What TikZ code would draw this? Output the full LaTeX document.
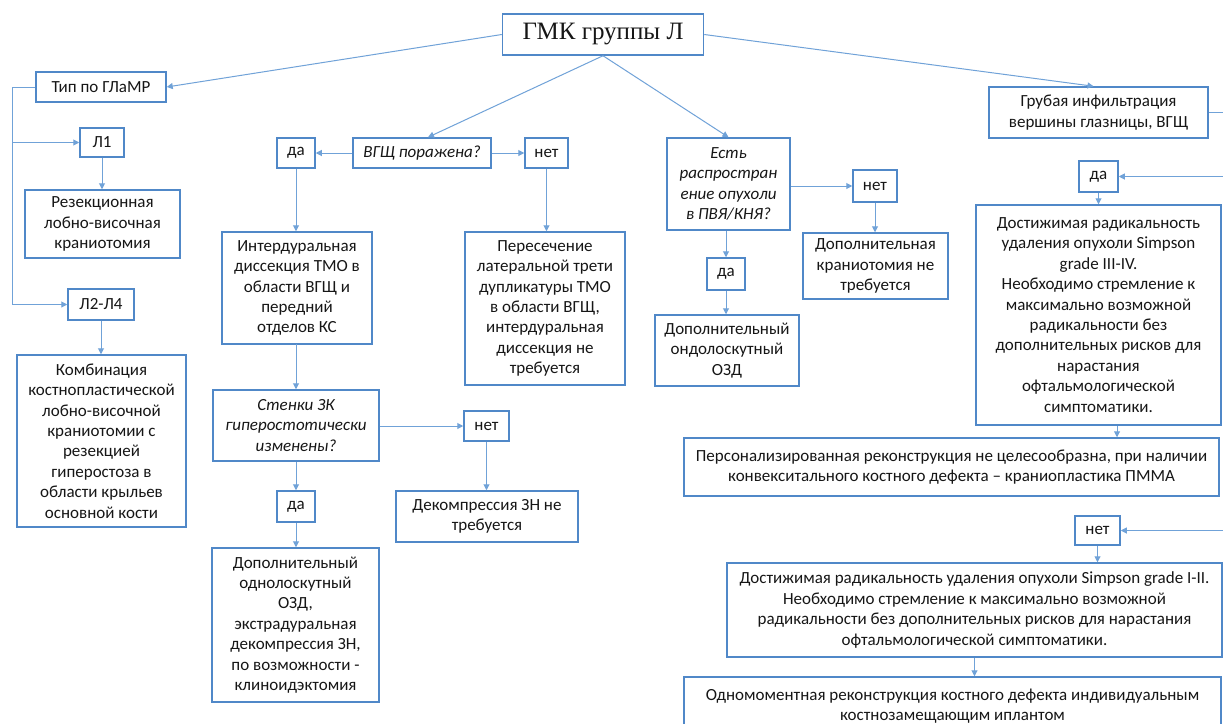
\documentclass[tikz,border=0pt]{standalone}
\usepackage{fontspec}
\setmainfont{Carlito}
\newfontfamily\titlefont{Liberation Serif}
\usetikzlibrary{arrows.meta}
\definecolor{boxblue}{RGB}{80,136,200}
\definecolor{linkblue}{RGB}{112,162,216}
\definecolor{inktext}{RGB}{22,22,22}
\begin{document}
\begin{tikzpicture}[x=1pt,y=-1pt,
  box/.style={draw=boxblue,line width=1.5pt,fill=white,align=center,inner sep=0pt,
    text=inktext,font=\fontsize{17}{20.4}\selectfont},
  qbox/.style={box,font=\fontsize{17}{20.4}\selectfont\itshape},
  sz/.style 2 args={minimum width=#1pt,minimum height=#2pt},
  link/.style={draw=linkblue,line width=1pt,-{Triangle[length=6pt,width=6pt]}},
  plain/.style={draw=linkblue,line width=1pt}]
\useasboundingbox (0,0) rectangle (1223,723);
\fill[white] (0,0) rectangle (1223,723);
\coordinate (rim) at (1223,0);

% root
\node[box,sz={201}{41},font=\titlefont\fontsize{25}{28}\selectfont] (gmk) at (603,34.5) {ГМК группы Л};

% left column: type by GLaMR
\node[box,sz={130}{30}] (tip) at (101,87) {Тип по ГЛаМР};
\node[box,sz={44}{29}] (L1) at (102,142.5) {Л1};
\node[box,sz={155}{68}] (rez) at (102.5,224) {Резекционная\\лобно-височная\\краниотомия};
\node[box,sz={66}{31}] (L24) at (101,304.5) {Л2-Л4};
\node[box,sz={169}{172}] (komb) at (101.5,441) {Комбинация\\костнопластической\\лобно-височной\\краниотомии с\\резекцией\\гиперостоза в\\области крыльев\\основной кости};

% optic canal branch
\node[qbox,sz={138}{30}] (vgsh) at (422,153) {ВГЩ поражена?};
\node[box,sz={38}{30}] (da1) at (296,153) {да};
\node[box,sz={43}{30}] (net1) at (546.5,153) {нет};
\node[box,sz={150}{112}] (inter) at (297,288) {Интердуральная\\диссекция ТМО в\\области ВГЩ и\\передний\\отделов КС};
\node[box,sz={160}{153}] (cross) at (545,308.5) {Пересечение\\латеральной трети\\дупликатуры ТМО\\в области ВГЩ,\\интердуральная\\диссекция не\\требуется};
\node[qbox,sz={166}{71}] (sten) at (296,425.5) {Стенки ЗК\\гиперостотически\\изменены?};
\node[box,sz={45}{30}] (net2) at (486.5,426) {нет};
\node[box,sz={182}{51}] (dek) at (487,516.5) {Декомпрессия ЗН не\\требуется};
\node[box,sz={38}{31}] (da2) at (296,506.5) {да};
\node[box,sz={167}{154}] (dop1) at (295.5,625) {Дополнительный\\однолоскутный\\ОЗД,\\экстрадуральная\\декомпрессия ЗН,\\по возможности -\\клиноидэктомия};

% cavernous sinus branch
\node[qbox,sz={123}{92}] (est) at (728.5,184) {Есть\\распростран\\ение опухоли\\в ПВЯ/КНЯ?};
\node[box,sz={44}{32}] (net3) at (875,186) {нет};
\node[box,sz={145}{66}] (krani) at (875.5,266) {Дополнительная\\краниотомия не\\требуется};
\node[box,sz={38}{32}] (da3) at (726,274) {да};
\node[box,sz={144}{71}] (ondo) at (727,350.5) {Дополнительный\\ондолоскутный\\ОЗД};

% orbital apex branch
\node[box,sz={219}{51}] (grub) at (1098.5,112.5) {Грубая инфильтрация\\вершины глазницы, ВГЩ};
\node[box,sz={39}{31}] (da4) at (1098.5,176.5) {да};
\node[box,sz={245}{220}] (dost1) at (1098.5,315) {Достижимая радикальность\\удаления опухоли Simpson\\grade III-IV.\\Необходимо стремление к\\максимально возможной\\радикальности без\\дополнительных рисков для\\нарастания\\офтальмологической\\симптоматики.};
\node[box,sz={535}{58}] (pmma) at (951.5,467) {Персонализированная реконструкция не целесообразна, при наличии\\конвекситального костного дефекта – краниопластика ПММА};
\node[box,sz={45}{29}] (net4) at (1097.5,530.5) {нет};
\node[box,sz={495}{94}] (dost2) at (974.5,610) {Достижимая радикальность удаления опухоли Simpson grade I-II.\\Необходимо стремление к максимально возможной\\радикальности без дополнительных рисков для нарастания\\офтальмологической симптоматики.};
\node[box,sz={537}{58}] (odno) at (952.5,706) {Одномоментная реконструкция костного дефекта индивидуальным\\костнозамещающим иплантом};

% connectors from the root
\draw[link] (gmk.west) -- (tip.east);
\draw[link] (gmk.east) -- ([xshift=-5]grub.north);
\draw[link] (gmk.south) -- ([xshift=6]vgsh.north);
\draw[link] (gmk.south) -- (est.north);

% GLaMR trunk
\coordinate (trunk) at (12,87);
\draw[plain] (tip.west) -- (trunk);
\draw[link] (trunk) |- (L24.west);
\draw[link] (trunk |- L1.west) -- (L1.west);
\draw[link] (L1.south) -- (L1.south |- rez.north);
\draw[link] (L24.south) -- (L24.south |- komb.north);

% optic canal
\draw[link] (vgsh.west) -- (da1.east);
\draw[link] (vgsh.east) -- (net1.west);
\draw[link] (da1.south) -- (da1.south |- inter.north);
\draw[link] (net1.south) -- (net1.south |- cross.north);
\draw[link] (inter.south) -- (inter.south -| sten.north) -- (sten.north);
\draw[link] (sten.east |- net2.west) -- (net2.west);
\draw[link] (sten.south) -- (da2.north);
\draw[link] (da2.south) -- (da2.south |- dop1.north);
\draw[link] (net2.south) -- (net2.south |- dek.north);

% cavernous sinus
\draw[link] (est.east |- net3.west) -- (net3.west);
\draw[link] (net3.south) -- (net3.south |- krani.north);
\draw[link] (da3.north |- est.south) -- (da3.north);
\draw[link] (da3.south) -- (da3.south |- ondo.north);

% orbital apex
\draw[plain] (grub.east) -- (grub.east -| rim);
\draw[link] (da4.east -| rim) -- (da4.east);
\draw[link] (da4.south) -- (da4.south |- dost1.north);
\draw[link] ([xshift=18.5]dost1.south) -- ([xshift=18.5]dost1.south |- pmma.north);
\draw[link] (net4.east -| rim) -- (net4.east);
\draw[link] (net4.south) -- (net4.south |- dost2.north);
\draw[link] (dost2.south) -- (dost2.south |- odno.north);
\end{tikzpicture}
\end{document}
